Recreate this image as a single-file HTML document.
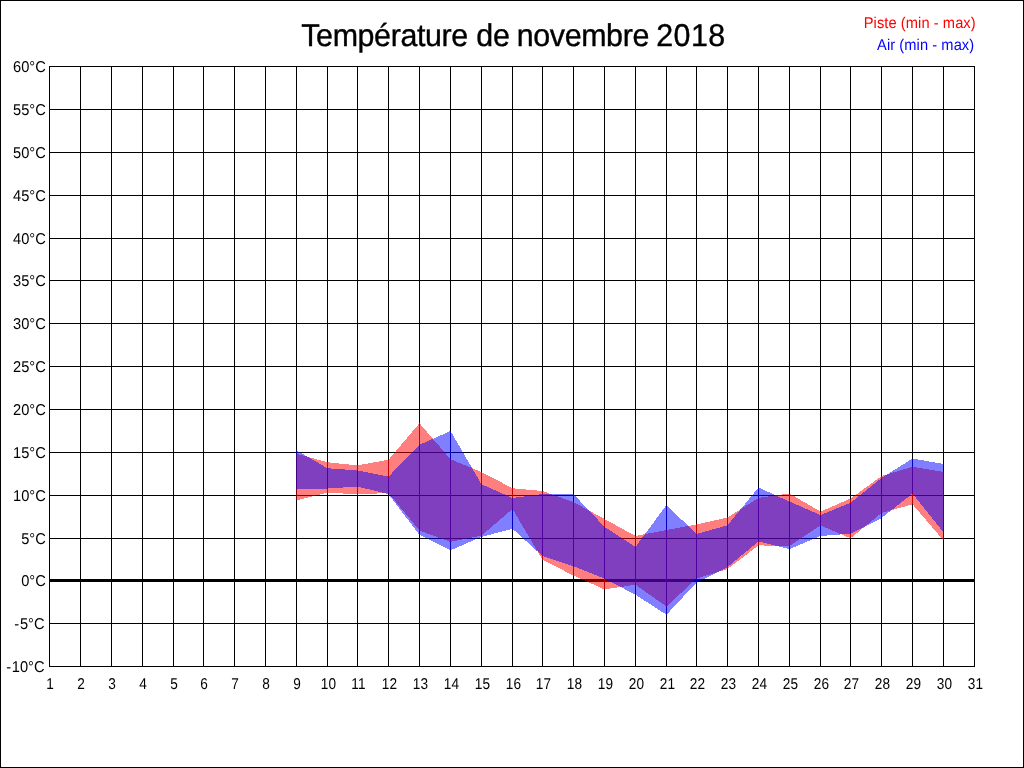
<!DOCTYPE html>
<html lang="fr"><head><meta charset="utf-8"><title>Température de novembre 2018</title>
<style>
html,body{margin:0;padding:0;background:#fff;}
body{width:1024px;height:768px;overflow:hidden;font-family:"Liberation Sans",Arial,sans-serif;}
svg{display:block;position:absolute;left:0;top:0;}
.g{shape-rendering:crispEdges;}
text{font-family:"Liberation Sans",Arial,sans-serif;text-rendering:geometricPrecision;}
.ax{font-size:14.67px;fill:#000;}
.t{font-size:30.4px;fill:#000;stroke:#000;stroke-width:0.36px;}
.lg{font-size:14.67px;}
</style></head><body>
<svg width="1024" height="768" viewBox="0 0 1024 768">
<rect x="0" y="0" width="1024" height="768" fill="#fff"/>
<g class="g">
<rect x="0.5" y="0.5" width="1023" height="767" fill="none" stroke="#000" stroke-width="1"/>
<rect x="49" y="66" width="1" height="601" fill="#000"/>
<rect x="80" y="66" width="1" height="601" fill="#000"/>
<rect x="111" y="66" width="1" height="601" fill="#000"/>
<rect x="142" y="66" width="1" height="601" fill="#000"/>
<rect x="173" y="66" width="1" height="601" fill="#000"/>
<rect x="203" y="66" width="1" height="601" fill="#000"/>
<rect x="234" y="66" width="1" height="601" fill="#000"/>
<rect x="265" y="66" width="1" height="601" fill="#000"/>
<rect x="296" y="66" width="1" height="601" fill="#000"/>
<rect x="327" y="66" width="1" height="601" fill="#000"/>
<rect x="357" y="66" width="1" height="601" fill="#000"/>
<rect x="388" y="66" width="1" height="601" fill="#000"/>
<rect x="419" y="66" width="1" height="601" fill="#000"/>
<rect x="450" y="66" width="1" height="601" fill="#000"/>
<rect x="481" y="66" width="1" height="601" fill="#000"/>
<rect x="512" y="66" width="1" height="601" fill="#000"/>
<rect x="542" y="66" width="1" height="601" fill="#000"/>
<rect x="573" y="66" width="1" height="601" fill="#000"/>
<rect x="604" y="66" width="1" height="601" fill="#000"/>
<rect x="635" y="66" width="1" height="601" fill="#000"/>
<rect x="666" y="66" width="1" height="601" fill="#000"/>
<rect x="696" y="66" width="1" height="601" fill="#000"/>
<rect x="727" y="66" width="1" height="601" fill="#000"/>
<rect x="758" y="66" width="1" height="601" fill="#000"/>
<rect x="789" y="66" width="1" height="601" fill="#000"/>
<rect x="820" y="66" width="1" height="601" fill="#000"/>
<rect x="850" y="66" width="1" height="601" fill="#000"/>
<rect x="881" y="66" width="1" height="601" fill="#000"/>
<rect x="912" y="66" width="1" height="601" fill="#000"/>
<rect x="943" y="66" width="1" height="601" fill="#000"/>
<rect x="974" y="66" width="1" height="601" fill="#000"/>
<rect x="49" y="66" width="926" height="1" fill="#000"/>
<rect x="49" y="109" width="926" height="1" fill="#000"/>
<rect x="49" y="152" width="926" height="1" fill="#000"/>
<rect x="49" y="195" width="926" height="1" fill="#000"/>
<rect x="49" y="238" width="926" height="1" fill="#000"/>
<rect x="49" y="280" width="926" height="1" fill="#000"/>
<rect x="49" y="323" width="926" height="1" fill="#000"/>
<rect x="49" y="366" width="926" height="1" fill="#000"/>
<rect x="49" y="409" width="926" height="1" fill="#000"/>
<rect x="49" y="452" width="926" height="1" fill="#000"/>
<rect x="49" y="495" width="926" height="1" fill="#000"/>
<rect x="49" y="538" width="926" height="1" fill="#000"/>
<rect x="49" y="579" width="926" height="3" fill="#000"/>
<rect x="49" y="623" width="926" height="1" fill="#000"/>
<rect x="49" y="666" width="926" height="1" fill="#000"/>
<polygon points="296.00,453.60 327.50,462.25 357.50,465.40 388.50,459.75 419.50,423.25 450.50,459.25 481.50,472.00 512.50,488.25 542.50,491.00 573.50,502.10 604.50,519.00 635.50,536.00 666.50,530.00 696.50,524.40 727.50,517.50 758.50,497.90 789.50,493.50 820.50,511.60 850.50,498.60 881.50,476.10 912.50,466.75 944.00,472.00 944.00,541.00 912.50,504.25 881.50,513.00 850.50,538.25 820.50,525.40 789.50,546.00 758.50,545.40 727.50,569.00 696.50,578.50 666.50,606.60 635.50,584.75 604.50,589.40 573.50,575.60 542.50,559.75 512.50,509.00 481.50,535.60 450.50,541.90 419.50,530.60 388.50,492.90 357.50,494.50 327.50,492.50 296.00,500.40" fill="#ff0000" fill-opacity="0.5"/>
<polygon points="296.00,450.10 327.50,468.25 357.50,470.40 388.50,476.60 419.50,444.75 450.50,431.00 481.50,484.25 512.50,498.00 542.50,494.10 573.50,494.10 604.50,526.90 635.50,546.90 666.50,505.00 696.50,534.00 727.50,525.25 758.50,487.50 789.50,501.60 820.50,515.00 850.50,502.80 881.50,478.00 912.50,458.60 944.00,464.00 944.00,533.00 912.50,493.60 881.50,518.00 850.50,533.70 820.50,536.00 789.50,549.10 758.50,541.50 727.50,567.00 696.50,582.50 666.50,614.75 635.50,594.75 604.50,578.50 573.50,566.25 542.50,556.00 512.50,528.75 481.50,536.90 450.50,550.25 419.50,535.00 388.50,494.10 357.50,486.60 327.50,488.50 296.00,488.50" fill="#0000ff" fill-opacity="0.5"/>
<rect x="327" y="462.25" width="1" height="30.25" fill="#ff0000" fill-opacity="0.5"/><rect x="327" y="468.25" width="1" height="20.25" fill="#0000ff" fill-opacity="0.5"/>
<rect x="357" y="465.40" width="1" height="29.10" fill="#ff0000" fill-opacity="0.5"/><rect x="357" y="470.40" width="1" height="16.20" fill="#0000ff" fill-opacity="0.5"/>
<rect x="388" y="459.75" width="1" height="33.15" fill="#ff0000" fill-opacity="0.5"/><rect x="388" y="476.60" width="1" height="17.50" fill="#0000ff" fill-opacity="0.5"/>
<rect x="419" y="423.25" width="1" height="107.35" fill="#ff0000" fill-opacity="0.5"/><rect x="419" y="444.75" width="1" height="90.25" fill="#0000ff" fill-opacity="0.5"/>
<rect x="450" y="459.25" width="1" height="82.65" fill="#ff0000" fill-opacity="0.5"/><rect x="450" y="431.00" width="1" height="119.25" fill="#0000ff" fill-opacity="0.5"/>
<rect x="481" y="472.00" width="1" height="63.60" fill="#ff0000" fill-opacity="0.5"/><rect x="481" y="484.25" width="1" height="52.65" fill="#0000ff" fill-opacity="0.5"/>
<rect x="512" y="488.25" width="1" height="20.75" fill="#ff0000" fill-opacity="0.5"/><rect x="512" y="498.00" width="1" height="30.75" fill="#0000ff" fill-opacity="0.5"/>
<rect x="542" y="491.00" width="1" height="68.75" fill="#ff0000" fill-opacity="0.5"/><rect x="542" y="494.10" width="1" height="61.90" fill="#0000ff" fill-opacity="0.5"/>
<rect x="573" y="502.10" width="1" height="73.50" fill="#ff0000" fill-opacity="0.5"/><rect x="573" y="494.10" width="1" height="72.15" fill="#0000ff" fill-opacity="0.5"/>
<rect x="604" y="519.00" width="1" height="70.40" fill="#ff0000" fill-opacity="0.5"/><rect x="604" y="526.90" width="1" height="51.60" fill="#0000ff" fill-opacity="0.5"/>
<rect x="635" y="536.00" width="1" height="48.75" fill="#ff0000" fill-opacity="0.5"/><rect x="635" y="546.90" width="1" height="47.85" fill="#0000ff" fill-opacity="0.5"/>
<rect x="666" y="530.00" width="1" height="76.60" fill="#ff0000" fill-opacity="0.5"/><rect x="666" y="505.00" width="1" height="109.75" fill="#0000ff" fill-opacity="0.5"/>
<rect x="696" y="524.40" width="1" height="54.10" fill="#ff0000" fill-opacity="0.5"/><rect x="696" y="534.00" width="1" height="48.50" fill="#0000ff" fill-opacity="0.5"/>
<rect x="727" y="517.50" width="1" height="51.50" fill="#ff0000" fill-opacity="0.5"/><rect x="727" y="525.25" width="1" height="41.75" fill="#0000ff" fill-opacity="0.5"/>
<rect x="758" y="497.90" width="1" height="47.50" fill="#ff0000" fill-opacity="0.5"/><rect x="758" y="487.50" width="1" height="54.00" fill="#0000ff" fill-opacity="0.5"/>
<rect x="789" y="493.50" width="1" height="52.50" fill="#ff0000" fill-opacity="0.5"/><rect x="789" y="501.60" width="1" height="47.50" fill="#0000ff" fill-opacity="0.5"/>
<rect x="820" y="511.60" width="1" height="13.80" fill="#ff0000" fill-opacity="0.5"/><rect x="820" y="515.00" width="1" height="21.00" fill="#0000ff" fill-opacity="0.5"/>
<rect x="850" y="498.60" width="1" height="39.65" fill="#ff0000" fill-opacity="0.5"/><rect x="850" y="502.80" width="1" height="30.90" fill="#0000ff" fill-opacity="0.5"/>
<rect x="881" y="476.10" width="1" height="36.90" fill="#ff0000" fill-opacity="0.5"/><rect x="881" y="478.00" width="1" height="40.00" fill="#0000ff" fill-opacity="0.5"/>
<rect x="912" y="466.75" width="1" height="37.50" fill="#ff0000" fill-opacity="0.5"/><rect x="912" y="458.60" width="1" height="35.00" fill="#0000ff" fill-opacity="0.5"/>
</g>
<text class="ax" transform="translate(45.80 72.00) scale(1 1.070)" text-anchor="end">60°C</text>
<text class="ax" transform="translate(45.80 115.00) scale(1 1.070)" text-anchor="end">55°C</text>
<text class="ax" transform="translate(45.80 158.00) scale(1 1.070)" text-anchor="end">50°C</text>
<text class="ax" transform="translate(45.80 201.00) scale(1 1.070)" text-anchor="end">45°C</text>
<text class="ax" transform="translate(45.80 244.00) scale(1 1.070)" text-anchor="end">40°C</text>
<text class="ax" transform="translate(45.80 286.00) scale(1 1.070)" text-anchor="end">35°C</text>
<text class="ax" transform="translate(45.80 329.00) scale(1 1.070)" text-anchor="end">30°C</text>
<text class="ax" transform="translate(45.80 372.00) scale(1 1.070)" text-anchor="end">25°C</text>
<text class="ax" transform="translate(45.80 415.00) scale(1 1.070)" text-anchor="end">20°C</text>
<text class="ax" transform="translate(45.80 458.00) scale(1 1.070)" text-anchor="end">15°C</text>
<text class="ax" transform="translate(45.80 501.00) scale(1 1.070)" text-anchor="end">10°C</text>
<text class="ax" transform="translate(45.80 544.00) scale(1 1.070)" text-anchor="end">5°C</text>
<text class="ax" transform="translate(45.80 586.00) scale(1 1.070)" text-anchor="end">0°C</text>
<text class="ax" transform="translate(44.50 629.00) scale(1 1.070)" text-anchor="end"><tspan letter-spacing="0.7">-</tspan>5°C</text>
<text class="ax" transform="translate(44.50 672.00) scale(1 1.070)" text-anchor="end"><tspan letter-spacing="0.7">-</tspan>10°C</text>
<text class="ax" transform="translate(50.00 688.7) scale(0.93 1.070)" text-anchor="middle">1</text>
<text class="ax" transform="translate(81.00 688.7) scale(0.93 1.070)" text-anchor="middle">2</text>
<text class="ax" transform="translate(112.00 688.7) scale(0.93 1.070)" text-anchor="middle">3</text>
<text class="ax" transform="translate(143.00 688.7) scale(0.93 1.070)" text-anchor="middle">4</text>
<text class="ax" transform="translate(174.00 688.7) scale(0.93 1.070)" text-anchor="middle">5</text>
<text class="ax" transform="translate(204.00 688.7) scale(0.93 1.070)" text-anchor="middle">6</text>
<text class="ax" transform="translate(235.00 688.7) scale(0.93 1.070)" text-anchor="middle">7</text>
<text class="ax" transform="translate(266.00 688.7) scale(0.93 1.070)" text-anchor="middle">8</text>
<text class="ax" transform="translate(297.00 688.7) scale(0.93 1.070)" text-anchor="middle">9</text>
<text class="ax" transform="translate(328.40 688.7) scale(0.93 1.070)" text-anchor="middle">10</text>
<text class="ax" transform="translate(358.40 688.7) scale(0.93 1.070)" text-anchor="middle">11</text>
<text class="ax" transform="translate(389.40 688.7) scale(0.93 1.070)" text-anchor="middle">12</text>
<text class="ax" transform="translate(420.40 688.7) scale(0.93 1.070)" text-anchor="middle">13</text>
<text class="ax" transform="translate(451.40 688.7) scale(0.93 1.070)" text-anchor="middle">14</text>
<text class="ax" transform="translate(482.40 688.7) scale(0.93 1.070)" text-anchor="middle">15</text>
<text class="ax" transform="translate(513.40 688.7) scale(0.93 1.070)" text-anchor="middle">16</text>
<text class="ax" transform="translate(543.40 688.7) scale(0.93 1.070)" text-anchor="middle">17</text>
<text class="ax" transform="translate(574.40 688.7) scale(0.93 1.070)" text-anchor="middle">18</text>
<text class="ax" transform="translate(605.40 688.7) scale(0.93 1.070)" text-anchor="middle">19</text>
<text class="ax" transform="translate(636.40 688.7) scale(0.93 1.070)" text-anchor="middle">20</text>
<text class="ax" transform="translate(667.40 688.7) scale(0.93 1.070)" text-anchor="middle">21</text>
<text class="ax" transform="translate(697.40 688.7) scale(0.93 1.070)" text-anchor="middle">22</text>
<text class="ax" transform="translate(728.40 688.7) scale(0.93 1.070)" text-anchor="middle">23</text>
<text class="ax" transform="translate(759.40 688.7) scale(0.93 1.070)" text-anchor="middle">24</text>
<text class="ax" transform="translate(790.40 688.7) scale(0.93 1.070)" text-anchor="middle">25</text>
<text class="ax" transform="translate(821.40 688.7) scale(0.93 1.070)" text-anchor="middle">26</text>
<text class="ax" transform="translate(851.40 688.7) scale(0.93 1.070)" text-anchor="middle">27</text>
<text class="ax" transform="translate(882.40 688.7) scale(0.93 1.070)" text-anchor="middle">28</text>
<text class="ax" transform="translate(913.40 688.7) scale(0.93 1.070)" text-anchor="middle">29</text>
<text class="ax" transform="translate(944.40 688.7) scale(0.93 1.070)" text-anchor="middle">30</text>
<text class="ax" transform="translate(975.40 688.7) scale(0.93 1.070)" text-anchor="middle">31</text>
<text class="t" transform="translate(0 45.8) scale(1 1.035)"><tspan x="301.3" letter-spacing="-0.375">Température</tspan> <tspan x="476.3" letter-spacing="-0.2">de</tspan> <tspan x="516.8" letter-spacing="-0.38">novembre</tspan> <tspan x="656.2" letter-spacing="0.45">2018</tspan></text>
<text class="lg" transform="translate(975.70 28.10) scale(1 1.070)" text-anchor="end" fill="#ff0000" letter-spacing="0.07">Piste (min - max)</text>
<text class="lg" transform="translate(974.20 50.10) scale(1 1.070)" text-anchor="end" fill="#0000ff" letter-spacing="0.07">Air (min - max)</text>
</svg>
</body></html>
